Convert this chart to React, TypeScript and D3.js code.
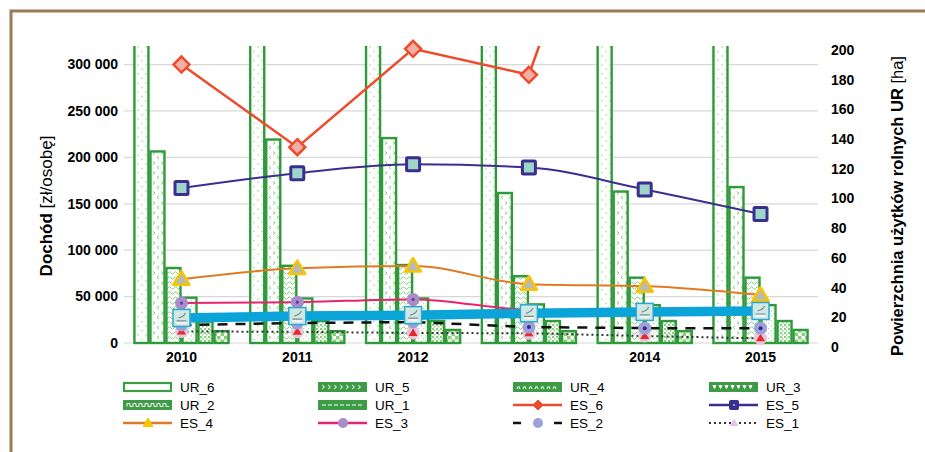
import React from 'react';
import * as d3 from 'd3';

// years on the x axis
const years = ['2010', '2011', '2012', '2013', '2014', '2015'];

// farmland area by size group [ha] (right axis)
const ur6 = [250, 262, 258, 246, 240, 252];
const ur5 = [129, 137, 138, 101, 102, 105];
const ur4 = [50.5, 52, 52.5, 45, 44, 44];
const ur3 = [30.5, 30, 30, 26, 25.5, 25.5];
const ur2 = [14.5, 14.8, 14.8, 14.8, 14.8, 14.8];
const ur1 = [8, 8, 8.8, 8, 8, 8.8];

// income per person [zł/osobę] (left axis)
const es6 = [300000, 211000, 317000, 289000, 640000, 600000];
const es5 = [167000, 183000, 192500, 189000, 165500, 139000];
const es4 = [68800, 80500, 83000, 63400, 61300, 51600];
const es3 = [43000, 44000, 47000, 35500, 33500, 33000];
const esAll = [27000, 29000, 30000, 32000, 33500, 34500];
const es2 = [19400, 21500, 22600, 17200, 16000, 16000];
const es1 = [12500, 12000, 10800, 10500, 7500, 5000];

const leftTicks = [0, 50000, 100000, 150000, 200000, 250000, 300000];
const rightTicks = [0, 20, 40, 60, 80, 100, 120, 140, 160, 180, 200];

const urKeys = ['UR_6', 'UR_5', 'UR_4', 'UR_3', 'UR_2', 'UR_1'];
const urValues = [ur6, ur5, ur4, ur3, ur2, ur1];
const legendOrder = ['UR_6', 'UR_5', 'UR_4', 'UR_3', 'UR_2', 'UR_1', 'ES_6', 'ES_5', 'ES_4', 'ES_3', 'ES_2', 'ES_1'];

const FONT = '"Liberation Sans", Arial, Helvetica, sans-serif';
const GREEN = '#2f9a3b';
const LIGHT = '#86d27c';

const fmt = d3.formatLocale({ decimal: ',', thousands: ' ', grouping: [3], currency: ['', ''] }).format(',d');

const lineStyle = {
  ES_6: { color: '#f04a2c', width: 2.5, dash: null, curve: d3.curveLinear, data: es6 },
  ES_5: { color: '#3a2f8f', width: 2, dash: null, curve: d3.curveMonotoneX, data: es5 },
  ES_4: { color: '#e07b24', width: 2, dash: null, curve: d3.curveMonotoneX, data: es4 },
  ES_3: { color: '#e8246e', width: 2, dash: null, curve: d3.curveMonotoneX, data: es3 },
  ES_2: { color: '#111', width: 2.5, dash: '10,8', curve: d3.curveLinear, data: es2 },
  ES_1: { color: '#333', width: 2, dash: '2,3', curve: d3.curveLinear, data: es1 },
  ES: { color: '#0aa4d8', width: 9.5, dash: null, curve: d3.curveLinear, data: esAll },
};

function Marker({ k, cx, cy, legend }: { k: string; cx: number; cy: number; legend?: boolean }) {
  if (k === 'ES_6') {
    const s = legend ? 5 : 8;
    return <path d={`M${cx},${cy - s}L${cx + s},${cy}L${cx},${cy + s}L${cx - s},${cy}Z`}
      fill={legend ? '#f04a2c' : '#f5b0a6'} stroke="#f04a2c" strokeWidth={legend ? 1 : 2.5} />;
  }
  if (k === 'ES_5') {
    const s = legend ? 4.5 : 6.5;
    return <g>
      <rect x={cx - s} y={cy - s} width={2 * s} height={2 * s} rx={1}
        fill={legend ? '#3a2f8f' : '#9fd5c9'} stroke="#3a2f8f" strokeWidth={legend ? 1 : 3} />
      {legend && <circle cx={cx} cy={cy} r={1} fill="#9fd5c9" />}
    </g>;
  }
  if (k === 'ES_4') {
    const s = legend ? 5 : 8;
    return <path d={`M${cx},${cy - s}L${cx + s},${cy + s * 0.7}L${cx - s},${cy + s * 0.7}Z`}
      fill={legend ? '#f7c600' : '#b9b9b9'} stroke="#f7c600" strokeWidth={legend ? 1 : 2.5} strokeLinejoin="round" />;
  }
  if (k === 'ES_3') {
    return <g>
      <circle cx={cx} cy={cy} r={legend ? 5 : 6.5} fill="#a98cc8" />
      {!legend && <circle cx={cx} cy={cy} r={1.6} fill="#6a3e9a" />}
    </g>;
  }
  if (k === 'ES_2') {
    return <g>
      <circle cx={cx} cy={cy} r={legend ? 5 : 6.5} fill="#9ea0d8" />
      {!legend && <circle cx={cx} cy={cy} r={2} fill="#2c2a8a" />}
    </g>;
  }
  if (k === 'ES_1') {
    return <g>
      {!legend && <circle cx={cx} cy={cy} r={6.5} fill="#e8c4dd" />}
      <path d={`M${cx},${cy - 4.5}L${cx + 4.5},${cy + 3}L${cx - 4.5},${cy + 3}Z`} fill={legend ? '#e6c2dc' : '#e52828'} />
    </g>;
  }
  // ES: cyan square with small icon
  return <g>
    <rect x={cx - 8.5} y={cy - 8.5} width={17} height={17} fill="#cfe8e4" stroke="#2aa8d0" strokeWidth={1.5} />
    <path d={`M${cx - 5},${cy + 3}L${cx + 5},${cy + 3}M${cx - 3},${cy}Q${cx + 2},${cy - 1} ${cx + 4},${cy - 5}`}
      stroke="#7a8c8c" strokeWidth={1.2} fill="none" />
    <rect x={cx - 5} y={cy + 4} width={10} height={2} fill="#f4f4f4" />
  </g>;
}

function legendPattern(k: string, x: number, y: number) {
  // white pattern drawn across a green swatch
  const parts: string[] = [];
  for (let px = x + 4; px < x + 46; px += 6) {
    if (k === 'UR_5') parts.push(`M${px},${y - 2}l2.5,2l-2.5,2`);
    if (k === 'UR_4') parts.push(`M${px},${y + 2}l1.5,-3l1.5,3`);
    if (k === 'UR_3') parts.push(`M${px},${y - 1.5}l3,0l-1.5,3z`);
    if (k === 'UR_2') parts.push(`M${px},${y + 1.5}l0,-3l3,0l0,3l3,0`);
    if (k === 'UR_1') parts.push(`M${px},${y}l4,0`);
  }
  return parts.join('');
}

export default function App() {
  const x = d3.scaleBand<string>().domain(years).range([123, 819]).paddingInner(0.17).paddingOuter(0.09);
  const bw = x.bandwidth();
  const xi = d3.scaleBand<string>().domain(urKeys).range([0, bw]);
  const yL = d3.scaleLinear().domain([0, 320000]).range([343, 46]);
  const yR = d3.scaleLinear().domain([0, 200]).range([343, 46]);
  const cx = (i: number) => (x(years[i]) as number) + bw / 2;

  const lineOrder = ['ES_1', 'ES_2', 'ES_3', 'ES_4', 'ES_5', 'ES_6', 'ES'];
  const legendCols = [123, 318, 513, 709];
  const legendRows = [387, 405, 423];

  return (
    <div style={{ position: 'absolute', left: 0, top: 0 }}>
      <svg width={925} height={452} style={{ display: 'block', fontFamily: FONT }}>
        <defs>
          <clipPath id="plot"><rect x={120} y={46} width={702} height={310} /></clipPath>
          <pattern id="UR_6" width={8} height={9} patternUnits="userSpaceOnUse">
            <rect width={8} height={9} fill="#fff" />
            <circle cx={2} cy={2} r={0.7} fill={LIGHT} />
            <circle cx={6} cy={6.5} r={0.7} fill={LIGHT} />
          </pattern>
          <pattern id="UR_5" width={8} height={10} patternUnits="userSpaceOnUse">
            <rect width={8} height={10} fill="#fff" />
            <path d="M1,1.5l2,1.5l-2,1.5M7,6l-2,1.5l2,1.5" stroke={LIGHT} strokeWidth={1} fill="none" />
          </pattern>
          <pattern id="UR_4" width={6} height={5} patternUnits="userSpaceOnUse">
            <rect width={6} height={5} fill="#fff" />
            <path d="M0,3q1.5,-2.5 3,0t3,0" stroke={LIGHT} strokeWidth={1} fill="none" />
          </pattern>
          <pattern id="UR_3" width={5} height={5} patternUnits="userSpaceOnUse">
            <rect width={5} height={5} fill="#fff" />
            <path d="M0.5,0.5l1.5,0l-0.75,1.5z M3,3l1.5,0l-0.75,1.5z" fill={LIGHT} />
          </pattern>
          <pattern id="UR_2" width={4} height={4} patternUnits="userSpaceOnUse">
            <rect width={4} height={4} fill="#fff" />
            <rect x={0} y={0} width={2} height={2} fill={LIGHT} />
            <rect x={2} y={2} width={1.5} height={1.5} fill={LIGHT} />
          </pattern>
          <pattern id="UR_1" width={7} height={7} patternUnits="userSpaceOnUse">
            <rect width={7} height={7} fill="#fff" />
            <rect x={0} y={0} width={3.5} height={3.5} fill={LIGHT} />
            <rect x={3.5} y={3.5} width={3.5} height={3.5} fill={LIGHT} />
          </pattern>
        </defs>

        <rect x={0} y={0} width={925} height={452} fill="#fff" />

        {/* gridlines */}
        {leftTicks.map(t => (
          <line key={t} x1={124} x2={818} y1={yL(t)} y2={yL(t)} stroke="#d8d8d8" strokeWidth={1.2} />
        ))}

        {/* bars */}
        <g clipPath="url(#plot)">
          {years.map((yr, i) => urKeys.map((k, j) => {
            const v = urValues[j][i];
            const bx = (x(yr) as number) + (xi(k) as number);
            return <rect key={yr + k} x={bx + 1} y={yR(v)} width={xi.bandwidth() - 2} height={yR(0) - yR(v)}
              fill={`url(#${k})`} stroke={GREEN} strokeWidth={2.4} />;
          }))}
        </g>

        {/* lines */}
        <g clipPath="url(#plot)">
          {lineOrder.map(k => {
            const s = lineStyle[k];
            const gen = d3.line<number>().x((d, i) => cx(i)).y(d => yL(d)).curve(s.curve);
            return <path key={k} d={gen(s.data) as string} fill="none" stroke={s.color} strokeWidth={s.width}
              strokeDasharray={s.dash || undefined} />;
          })}
        </g>

        {/* markers */}
        {lineOrder.map(k => lineStyle[k].data.map((v: number, i: number) =>
          v <= 320000 ? <Marker key={k + i} k={k} cx={cx(i)} cy={yL(v)} /> : null))}

        {/* left axis */}
        {leftTicks.map(t => (
          <text key={t} x={118} y={yL(t)} dy="0.35em" textAnchor="end" fontSize={14} fontWeight="bold">{fmt(t)}</text>
        ))}
        <text transform="translate(52,206) rotate(-90)" textAnchor="middle" fontSize={17}>
          <tspan fontWeight="bold">Dochód</tspan><tspan> [zł/osobę]</tspan>
        </text>

        {/* right axis */}
        {rightTicks.map(t => (
          <text key={t} x={831} y={yR(t) + 4} dy="0.35em" fontSize={14} fontWeight="bold">{t}</text>
        ))}
        <text transform="translate(903,206) rotate(-90)" textAnchor="middle" fontSize={16.5}>
          <tspan fontWeight="bold">Powierzchnia użytków rolnych UR</tspan><tspan> [ha]</tspan>
        </text>

        {/* x axis */}
        {years.map((yr, i) => (
          <text key={yr} x={cx(i)} y={362} textAnchor="middle" fontSize={14} fontWeight="bold">{yr}</text>
        ))}

        {/* legend */}
        {legendOrder.map((k, n) => {
          const lx = legendCols[n % 4];
          const ly = legendRows[Math.floor(n / 4)];
          let sw;
          if (k.startsWith('UR')) {
            sw = k === 'UR_6'
              ? <rect x={lx + 1} y={ly - 4} width={47} height={8} fill="#fff" stroke="#3f9c46" strokeWidth={2.2} />
              : <g>
                <rect x={lx} y={ly - 5} width={49} height={10} fill="#3f9c46" />
                <path d={legendPattern(k, lx, ly)} fill={k === 'UR_3' ? '#fff' : 'none'} stroke="#fff" strokeWidth={1} />
              </g>;
          } else {
            const s = lineStyle[k];
            const lineEl = k === 'ES_2'
              ? <path d={`M${lx},${ly}h8M${lx + 41},${ly}h8`} stroke="#111" strokeWidth={2.5} />
              : <line x1={lx} x2={lx + 49} y1={ly} y2={ly} stroke={s.color} strokeWidth={k === 'ES_1' ? 2 : 2.5}
                strokeDasharray={k === 'ES_1' ? '2,3' : undefined} />;
            sw = <g>{lineEl}<Marker k={k} cx={lx + 25} cy={ly} legend /></g>;
          }
          return <g key={k}>
            {sw}
            <text x={lx + 57} y={ly} dy="0.35em" fontSize={13.5}>{k}</text>
          </g>;
        })}

        {/* frame */}
        <rect x={11} y={11} width={1000} height={1000} fill="none" stroke="#9b7a56" strokeWidth={3} />
      </svg>
    </div>
  );
}
